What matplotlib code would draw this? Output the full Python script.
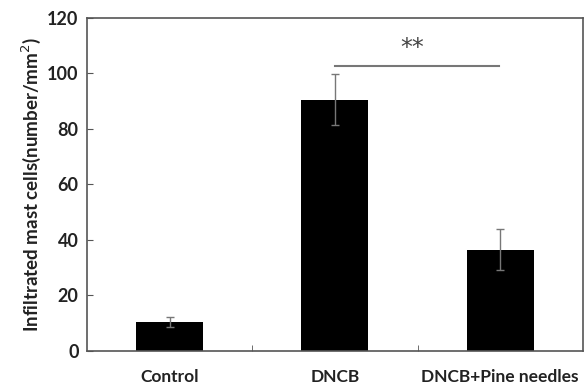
import matplotlib
matplotlib.use("Agg")
import matplotlib.pyplot as plt

categories = ["Control", "DNCB", "DNCB+Pine needles"]
values = [10.5, 90.5, 36.5]
errors = [1.8, 9.2, 7.3]
yticks = [0, 20, 40, 60, 80, 100, 120]
sig_text = "**"
sig_y = 102.6

plt.rcParams['font.family'] = ['Lato', 'DejaVu Sans']

fig = plt.figure(figsize=(5.87, 3.89), dpi=100)
ax = fig.add_axes([0.148, 0.098, 0.845, 0.856])
x = list(range(len(categories)))
ax.bar(x, values, width=0.405, color='black', zorder=2)
ax.errorbar(x, values, yerr=errors, fmt='none', ecolor='#777777', elinewidth=1.0,
            capsize=3, capthick=1.0, zorder=3)
ax.set_xlim(-0.5, 2.5)
ax.set_ylim(0, 120)
ax.set_yticks(yticks)
ax.set_yticklabels([str(t) for t in yticks], fontsize=13, fontweight='bold', color='#222222')
ax.set_xticks(x)
ax.set_xticklabels(categories, fontsize=12.5, fontweight='bold', color='#222222')
ax.tick_params(axis='x', length=0, pad=13)
ax.tick_params(axis='y', direction='in', length=4, color='#555555', pad=6)
ax.set_xticks([0.5, 1.5], minor=True)
ax.tick_params(axis='x', which='minor', direction='in', length=4, color='#555555')
for s in ax.spines.values():
    s.set_color('#555555')
    s.set_linewidth(1.2)
ax.set_ylabel("Infiltrated mast cells(number/mm$^{2}$)", fontsize=13.5, fontweight='bold',
              color='#222222', labelpad=3)
ax.plot([1.0, 1.99], [sig_y, sig_y], color='#777777', lw=1.5)
ax.text(1.47, 109.0, sig_text, ha='center', va='center', fontsize=17, color='#444444',
        family='DejaVu Sans')
fig.savefig("out.png", dpi=100)
